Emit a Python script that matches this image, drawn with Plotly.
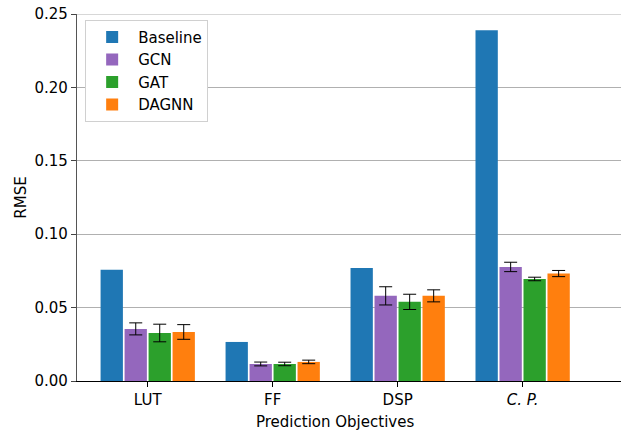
import plotly.graph_objects as go

categories = ["LUT", "FF", "DSP", "<i>C. P.</i>"]
series_names = ["Baseline", "GCN", "GAT", "DAGNN"]
baseline = [0.0757, 0.0266, 0.0770, 0.2390]
gcn = [0.0355, 0.0116, 0.0580, 0.0777]
gat = [0.0327, 0.0116, 0.0539, 0.0695]
dagnn = [0.0334, 0.0130, 0.0580, 0.0732]
gcn_err = [0.0041, 0.0013, 0.0062, 0.0032]
gat_err = [0.0060, 0.0012, 0.0052, 0.0012]
dagnn_err = [0.0050, 0.0012, 0.0041, 0.0021]
yticks = [0.00, 0.05, 0.10, 0.15, 0.20, 0.25]

colors = ["#1f77b4", "#9467bd", "#2ca02c", "#ff7f0e"]
values = [baseline, gcn, gat, dagnn]
errors = [None, gcn_err, gat_err, dagnn_err]

FONT = "DejaVu Sans"
FS = 15
GRID = "#b0b0b0"
fig = go.Figure()
for name, vals, err, col in zip(series_names, values, errors, colors):
    kw = {}
    if err is not None:
        kw["error_y"] = dict(type="data", array=err, visible=True,
                             color="black", thickness=1, width=6.5)
    fig.add_trace(go.Bar(x=list(range(len(categories))), y=vals, name=name,
                         marker=dict(color=col, line=dict(width=0)), **kw))

fig.update_layout(
    width=621, height=430,
    margin=dict(l=77, r=0, t=14, b=49, autoexpand=False),
    paper_bgcolor="white", plot_bgcolor="white",
    barmode="group", bargap=0.232, bargroupgap=0.07,
    font=dict(family=FONT, size=FS, color="black"),
    showlegend=True,
    legend=dict(x=0.015, y=0.984, xanchor="left", yanchor="top",
                bgcolor="white", bordercolor="#d0d0d0", borderwidth=1,
                font=dict(family=FONT, size=FS), itemsizing="constant",
                itemwidth=42, tracegroupgap=4),
    xaxis=dict(range=[-0.566, 3.787], tickvals=list(range(len(categories))),
               ticktext=categories, ticks="outside", ticklen=5, tickcolor="black",
               showline=True, linecolor="black", linewidth=1.3, showgrid=False,
               zeroline=False, automargin=False),
    yaxis=dict(range=[0, yticks[-1]], tickvals=yticks,
               ticktext=[f"{v:.2f}" for v in yticks],
               ticks="outside", ticklen=5, tickcolor="#444",
               showline=True, linecolor="#555", linewidth=1.3,
               showgrid=True, gridcolor=GRID, gridwidth=1, zeroline=False,
               automargin=False, ticklabeloverflow="allow",
               title=dict(text="RMSE", standoff=4,
                          font=dict(family=FONT, size=FS))),
    annotations=[dict(text="Prediction Objectives", x=(len(categories) - 1) / 2,
                      xref="x", y=-0.1104, yref="paper", xanchor="center",
                      yanchor="middle", showarrow=False,
                      font=dict(family=FONT, size=FS, color="black"))],
)
# top grid line (plotly drops the grid line at the range edge)
fig.add_shape(type="line", xref="paper", yref="y", x0=0, x1=1,
              y0=yticks[-1], y1=yticks[-1], layer="below",
              line=dict(color=GRID, width=1))

fig.write_html("out.html", config={"displayModeBar": False},
               post_script="document.body.style.margin='0';")
